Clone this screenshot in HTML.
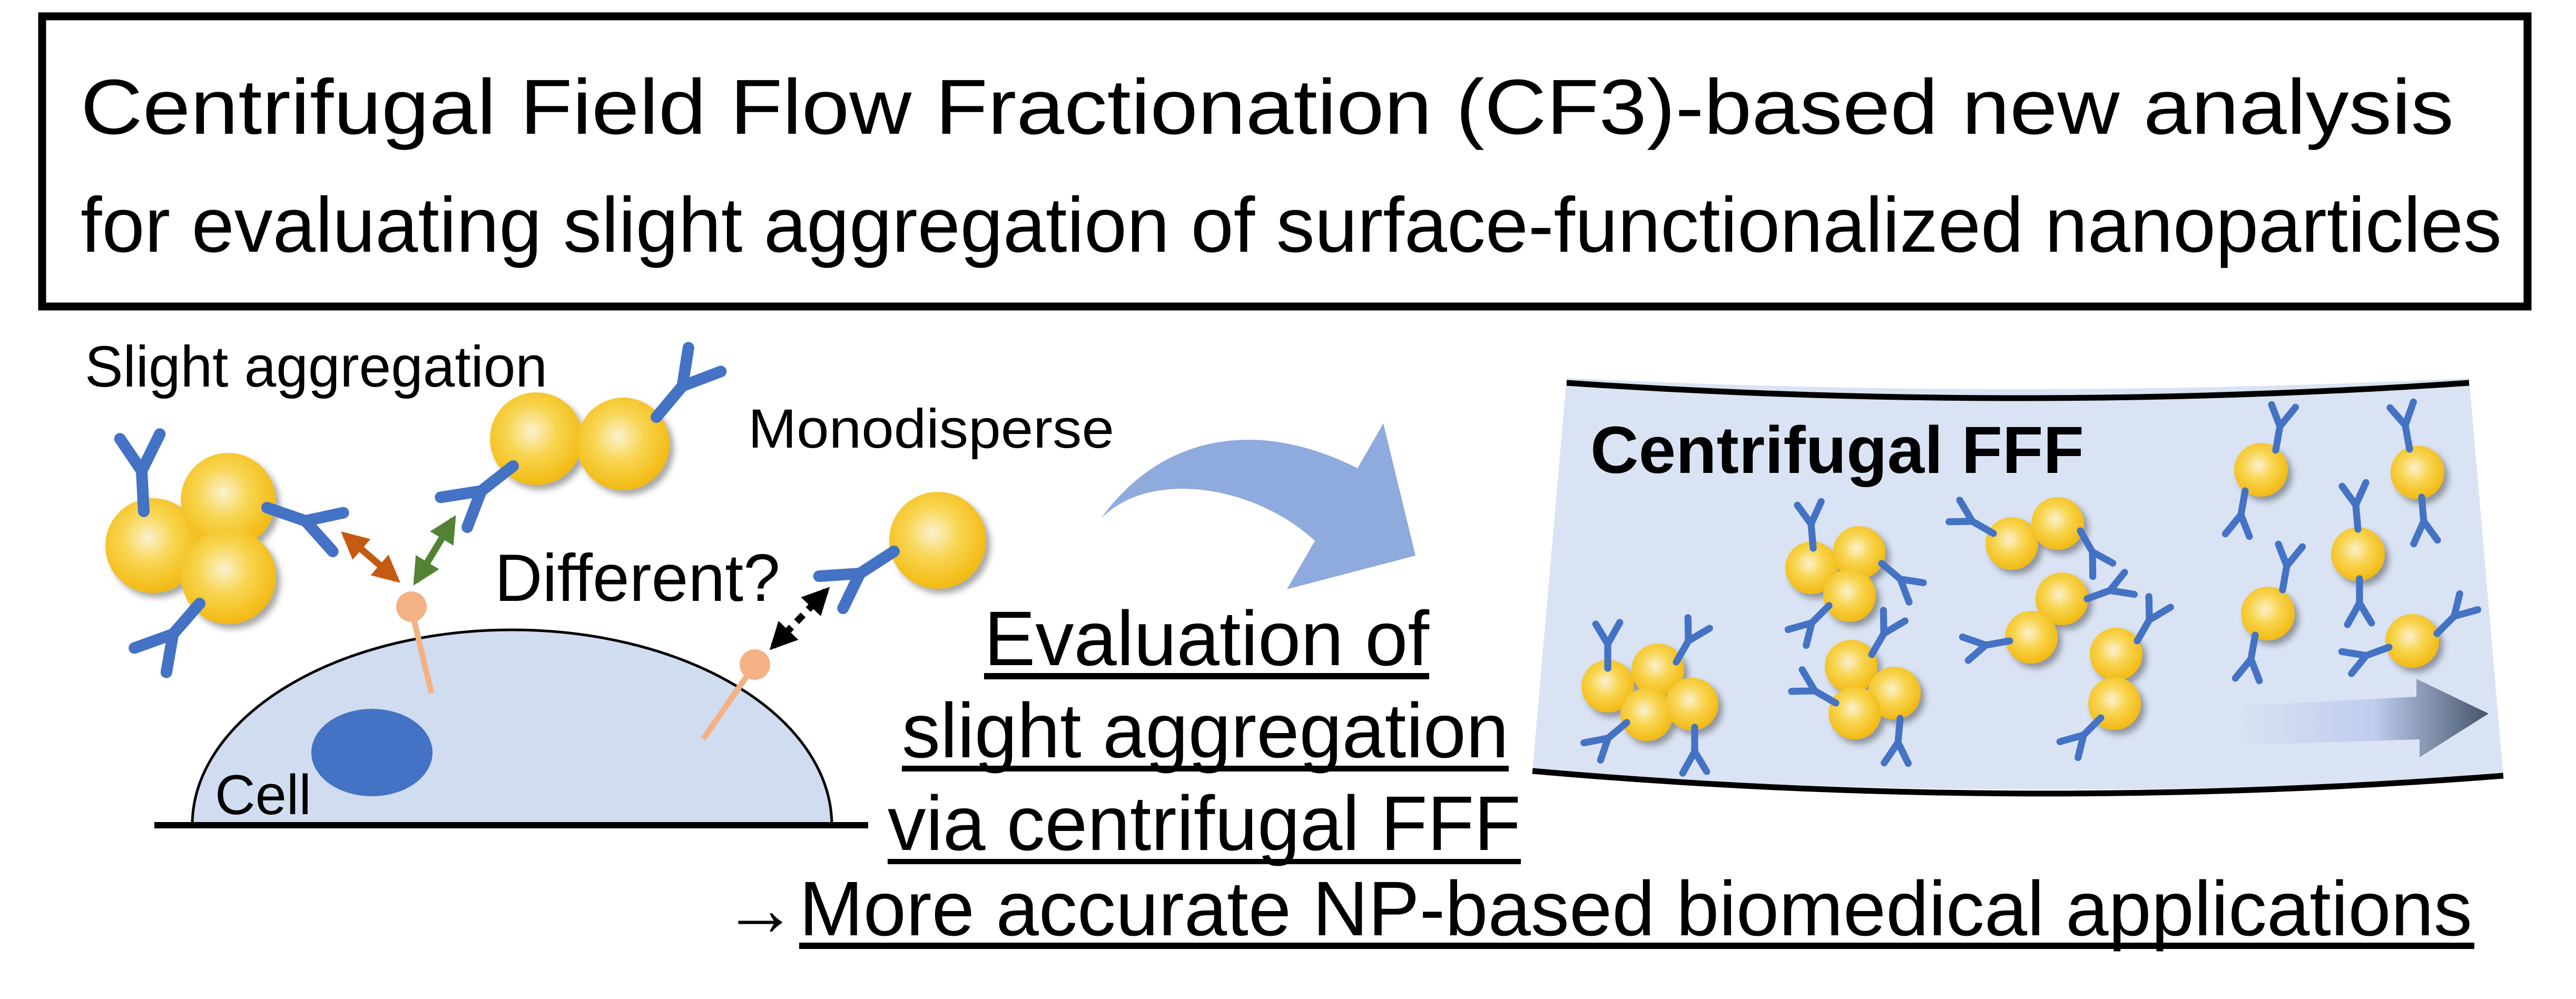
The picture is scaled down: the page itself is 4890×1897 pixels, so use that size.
<!DOCTYPE html>
<html><head><meta charset="utf-8"><style>html,body{margin:0;padding:0;background:#fff}svg{display:block}text{font-family:"Liberation Sans",Arial,sans-serif}</style></head><body>
<svg width="4890" height="1897" viewBox="0 0 4890 1897" xmlns="http://www.w3.org/2000/svg" font-family="'Liberation Sans', Arial, sans-serif">
<defs>
<radialGradient id="gold" cx="0.45" cy="0.42" r="0.6">
<stop offset="0" stop-color="#fbf1cf"/><stop offset="0.45" stop-color="#f8d550"/><stop offset="1" stop-color="#f2b80e"/></radialGradient>
<filter id="sh" x="-30%" y="-30%" width="170%" height="170%"><feDropShadow dx="8" dy="9" stdDeviation="6" flood-color="#000" flood-opacity="0.35"/></filter>
<g id="ab" fill="none" stroke="#4472c4" stroke-width="22" stroke-linecap="round" stroke-linejoin="round">
<path d="M0,0 L0,-77 M0,-77 L-38,-140 M0,-77 L38,-145"/></g>
<linearGradient id="pg" x1="0" y1="0" x2="1" y2="0"><stop offset="0" stop-color="#dae3f3"/><stop offset="0.55" stop-color="#bfcdee"/><stop offset="1" stop-color="#44546a"/></linearGradient>
<marker id="mo" viewBox="0 0 10 10" refX="8" refY="5" markerWidth="4" markerHeight="4" orient="auto-start-reverse"><path d="M0,0 L10,5 L0,10 z" fill="#c55a11"/></marker>
<marker id="mg" viewBox="0 0 10 10" refX="8" refY="5" markerWidth="4" markerHeight="4" orient="auto-start-reverse"><path d="M0,0 L10,5 L0,10 z" fill="#548235"/></marker>
<marker id="mb" viewBox="0 0 10 10" refX="8" refY="5" markerWidth="4" markerHeight="4" orient="auto-start-reverse"><path d="M0,0 L10,5 L0,10 z" fill="#000"/></marker>
</defs>

<!-- Title box -->
<rect x="80" y="31" width="4718" height="551" fill="none" stroke="#000" stroke-width="15"/>
<text x="153" y="254" font-size="148" textLength="4505" lengthAdjust="spacingAndGlyphs">Centrifugal Field Flow Fractionation (CF3)-based new analysis</text>
<text x="153" y="478" font-size="148" textLength="4596" lengthAdjust="spacingAndGlyphs">for evaluating slight aggregation of surface-functionalized nanoparticles</text>

<!-- Cell -->
<path d="M365,1567 A607,371 0 0 1 1579,1567 Z" fill="#d0dcf0" stroke="#000" stroke-width="5"/>
<line x1="293" y1="1567" x2="1648" y2="1567" stroke="#000" stroke-width="12"/>
<ellipse cx="706" cy="1429" rx="115" ry="83" fill="#4472c4"/>
<text x="408" y="1546" font-size="107" textLength="183" lengthAdjust="spacingAndGlyphs">Cell</text>

<!-- receptors -->
<line x1="786" y1="1178" x2="819" y2="1316" stroke="#f4b183" stroke-width="11"/>
<circle cx="781" cy="1152" r="29" fill="#f4b183"/>
<line x1="1433" y1="1262" x2="1335" y2="1403" stroke="#f4b183" stroke-width="11"/>
<circle cx="1433" cy="1262" r="29" fill="#f4b183"/>

<!-- labels -->
<text x="161" y="734" font-size="110" textLength="878" lengthAdjust="spacingAndGlyphs">Slight aggregation</text>
<text x="1420" y="850" font-size="105" textLength="695" lengthAdjust="spacingAndGlyphs">Monodisperse</text>
<text x="939" y="1141" font-size="127" textLength="542" lengthAdjust="spacingAndGlyphs">Different?</text>

<!-- left particles -->
<g filter="url(#sh)">
<circle cx="290" cy="1036" r="90" fill="url(#gold)"/>
<circle cx="433" cy="950" r="90" fill="url(#gold)"/>
<circle cx="434" cy="1095" r="90" fill="url(#gold)"/>
<circle cx="1018" cy="833" r="88" fill="url(#gold)"/>
<circle cx="1183" cy="843" r="88" fill="url(#gold)"/>
<circle cx="1780" cy="1026" r="92" fill="url(#gold)"/>
</g>
<use href="#ab" transform="translate(273,971) rotate(-3)"/>
<use href="#ab" transform="translate(507,964) rotate(109)"/>
<use href="#ab" transform="translate(379,1146) rotate(221)"/>
<use href="#ab" transform="translate(974,885) rotate(232)"/>
<use href="#ab" transform="translate(1246,792) rotate(40)"/>
<use href="#ab" transform="translate(1697,1047) rotate(237)"/>

<!-- interaction arrows -->
<line x1="655" y1="1016" x2="752" y2="1100" stroke="#c55a11" stroke-width="13" marker-start="url(#mo)" marker-end="url(#mo)"/>
<line x1="860" y1="987" x2="790" y2="1103" stroke="#548235" stroke-width="13" marker-start="url(#mg)" marker-end="url(#mg)"/>
<line x1="1468" y1="1227" x2="1568" y2="1122" stroke="#000" stroke-width="13" stroke-dasharray="18,14" marker-start="url(#mb)" marker-end="url(#mb)"/>

<!-- curved arrow -->
<path d="M2089,986 C2200,830 2380,790 2577,889 L2626,804 L2687,1055 L2443,1119 L2496,1027 C2380,920 2180,890 2089,986 Z" fill="#8faadc"/>

<!-- lower center text -->
<text x="1868" y="1263" font-size="147" textLength="845" lengthAdjust="spacingAndGlyphs">Evaluation of</text>
<rect x="1868" y="1278" width="845" height="12"/>
<text x="1712" y="1438" font-size="147" textLength="1152" lengthAdjust="spacingAndGlyphs">slight aggregation</text>
<rect x="1712" y="1454" width="1152" height="11"/>
<text x="1685" y="1614" font-size="147" textLength="1202" lengthAdjust="spacingAndGlyphs">via centrifugal FFF</text>
<rect x="1685" y="1631" width="1202" height="10"/>
<text x="1373" y="1776" font-size="147" textLength="140" lengthAdjust="spacingAndGlyphs">→</text>
<text x="1517" y="1776" font-size="147" textLength="3176" lengthAdjust="spacingAndGlyphs">More accurate NP-based biomedical applications</text>
<rect x="1517" y="1790" width="3180" height="12"/>

<!-- FFF panel -->
<path d="M2974,718 Q3830,760 4687,718 L4752,1473 Q3830,1530 2909,1464 Z" fill="#dae3f3"/>
<path d="M2974,727 Q3830,785 4687,727" fill="none" stroke="#000" stroke-width="11"/>
<path d="M2909,1464 Q3830,1545 4752,1473" fill="none" stroke="#000" stroke-width="11"/>
<text x="3019" y="898" font-size="126" font-weight="bold" textLength="937" lengthAdjust="spacingAndGlyphs">Centrifugal FFF</text>

<path d="M4242,1341 L4587,1323 L4587,1289 L4724,1355 L4593,1438 L4593,1404 L4242,1415 Z" fill="url(#pg)"/>

<g filter="url(#sh)">
<circle cx="3052" cy="1303" r="50" fill="url(#gold)"/>
<circle cx="3147" cy="1272" r="50" fill="url(#gold)"/>
<circle cx="3126" cy="1357" r="50" fill="url(#gold)"/>
<circle cx="3212" cy="1337" r="50" fill="url(#gold)"/>
<circle cx="3439" cy="1078" r="50" fill="url(#gold)"/>
<circle cx="3529" cy="1049" r="50" fill="url(#gold)"/>
<circle cx="3511" cy="1131" r="50" fill="url(#gold)"/>
<circle cx="3514" cy="1265" r="50" fill="url(#gold)"/>
<circle cx="3596" cy="1316" r="50" fill="url(#gold)"/>
<circle cx="3521" cy="1354" r="50" fill="url(#gold)"/>
<circle cx="3819" cy="1032" r="50" fill="url(#gold)"/>
<circle cx="3906" cy="994" r="50" fill="url(#gold)"/>
<circle cx="3914" cy="1137" r="50" fill="url(#gold)"/>
<circle cx="3856" cy="1210" r="50" fill="url(#gold)"/>
<circle cx="4017" cy="1242" r="50" fill="url(#gold)"/>
<circle cx="4014" cy="1336" r="50" fill="url(#gold)"/>
<circle cx="4292" cy="892" r="51" fill="url(#gold)"/>
<circle cx="4589" cy="897" r="51" fill="url(#gold)"/>
<circle cx="4476" cy="1052" r="51" fill="url(#gold)"/>
<circle cx="4305" cy="1165" r="51" fill="url(#gold)"/>
<circle cx="4579" cy="1217" r="51" fill="url(#gold)"/>
</g>
<g>
<use href="#ab" transform="translate(3052,1269) scale(0.6) rotate(0)"/>
<use href="#ab" transform="translate(3182,1257) scale(0.6) rotate(30)"/>
<use href="#ab" transform="translate(3088,1372) scale(0.6) rotate(230)"/>
<use href="#ab" transform="translate(3217,1381) scale(0.6) rotate(180)"/>
<use href="#ab" transform="translate(3442,1041) scale(0.6) rotate(-5)"/>
<use href="#ab" transform="translate(3572,1070) scale(0.6) rotate(130)"/>
<use href="#ab" transform="translate(3472,1150) scale(0.6) rotate(225)"/>
<use href="#ab" transform="translate(3553,1243) scale(0.6) rotate(30)"/>
<use href="#ab" transform="translate(3485,1335) scale(0.6) rotate(-60)"/>
<use href="#ab" transform="translate(3607,1364) scale(0.6) rotate(185)"/>
<use href="#ab" transform="translate(3784,1013) scale(0.6) rotate(-60)"/>
<use href="#ab" transform="translate(3949,1008) scale(0.6) rotate(150)"/>
<use href="#ab" transform="translate(3962,1137) scale(0.6) rotate(70)"/>
<use href="#ab" transform="translate(3815,1217) scale(0.6) rotate(260)"/>
<use href="#ab" transform="translate(4057,1217) scale(0.6) rotate(30)"/>
<use href="#ab" transform="translate(3988,1363) scale(0.6) rotate(225)"/>
<use href="#ab" transform="translate(4320,855) scale(0.6) rotate(10)"/>
<use href="#ab" transform="translate(4262,932) scale(0.6) rotate(190)"/>
<use href="#ab" transform="translate(4574,853) scale(0.6) rotate(-10)"/>
<use href="#ab" transform="translate(4597,944) scale(0.6) rotate(175)"/>
<use href="#ab" transform="translate(4476,1005) scale(0.6) rotate(-5)"/>
<use href="#ab" transform="translate(4479,1099) scale(0.6) rotate(180)"/>
<use href="#ab" transform="translate(4333,1120) scale(0.6) rotate(10)"/>
<use href="#ab" transform="translate(4281,1206) scale(0.6) rotate(190)"/>
<use href="#ab" transform="translate(4626,1203) scale(0.6) rotate(45)"/>
<use href="#ab" transform="translate(4535,1229) scale(0.6) rotate(250)"/>
</g>
</svg>
</body></html>
